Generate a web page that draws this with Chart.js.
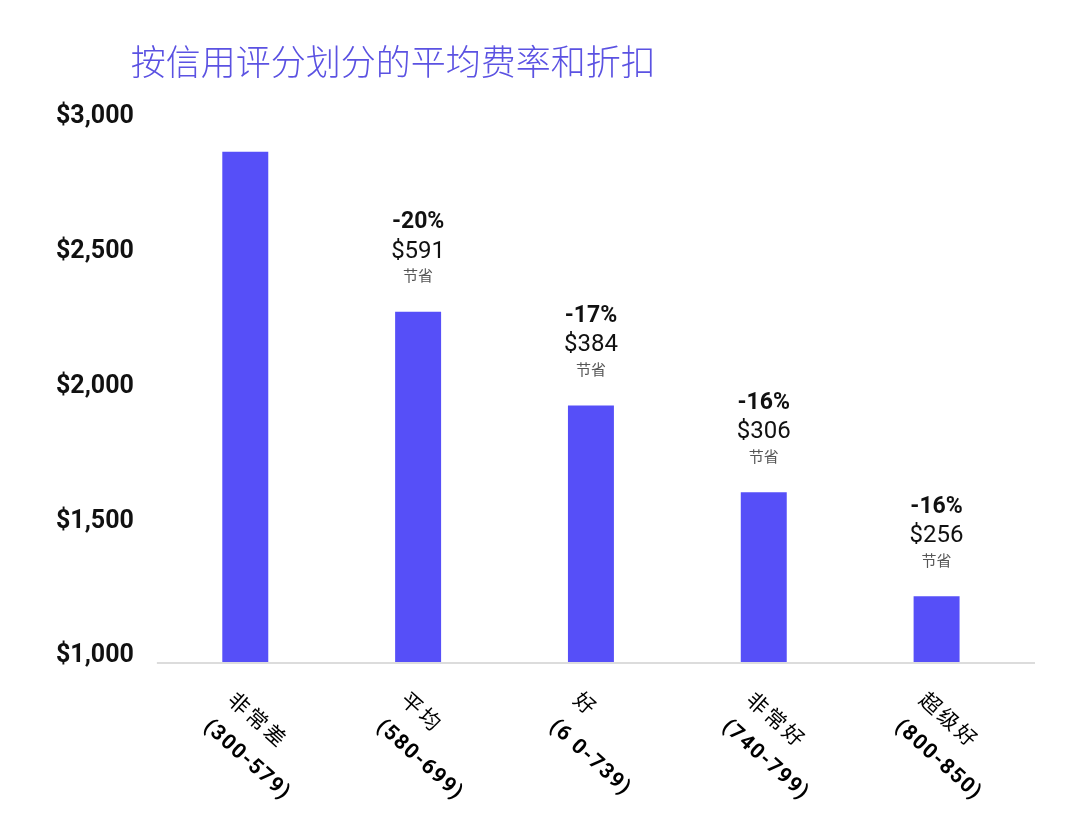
<!DOCTYPE html>
<html>
<head>
<meta charset="utf-8">
<script src="https://cdn.jsdelivr.net/npm/chart.js@4.4.1/dist/chart.umd.min.js"></script>
<style>
  html, body { margin: 0; padding: 0; background: #fff; }
  #wrap { width: 1080px; height: 833px; position: relative; }
</style>
</head>
<body>
<div id="wrap"><canvas id="rateChart"></canvas></div>
<script>
// 按信用评分划分的平均费率和折扣
const titleText = '按信用评分划分的平均费率和折扣';
const categories = ['非常差', '平均', '好', '非常好', '超级好'];
const scoreRanges = ['(300-579)', '(580-699)', '(6 0-739)', '(740-799)', '(800-850)'];
const avgRates = [2893, 2300, 1952, 1630, 1244];
const discountPct = ['', '-20%', '-17%', '-16%', '-16%'];
const savingsText = ['', '$591', '$384', '$306', '$256'];
const savingsNote = '节省';
const yMin = 1000;
const yMax = 3000;
const yStep = 500;

const BAR_COLOR = '#564ff8';
const CJK = '"Noto Sans CJK SC", "Noto Sans", sans-serif';
const LATIN = 'Roboto, "Noto Sans", sans-serif';

// draws title, baseline, savings notes and the slanted category labels
const extrasPlugin = {
  id: 'extras',
  afterDraw(chart) {
    const ctx = chart.ctx;
    const area = chart.chartArea;
    const yScale = chart.scales.y;
    const xScale = chart.scales.x;
    const meta = chart.getDatasetMeta(0);
    const baseY = yScale.getPixelForValue(yMin);

    ctx.save();

    // title
    ctx.fillStyle = '#5b52e2';
    ctx.font = '300 35px ' + CJK;
    ctx.textAlign = 'left';
    ctx.textBaseline = 'middle';
    ctx.fillText(titleText, area.left - 28, 62);

    // baseline
    ctx.strokeStyle = '#dcdcdc';
    ctx.lineWidth = 2;
    ctx.beginPath();
    ctx.moveTo(area.left - 2, baseY + 1);
    ctx.lineTo(area.right + 12, baseY + 1);
    ctx.stroke();

    // savings annotations above bars
    ctx.textAlign = 'center';
    meta.data.forEach((bar, i) => {
      if (!discountPct[i]) return;
      const x = bar.x;
      const top = bar.y;
      ctx.fillStyle = '#111';
      ctx.font = 'bold 23px ' + LATIN;
      ctx.fillText(discountPct[i], x, top - 89);
      ctx.font = '24px ' + LATIN;
      ctx.fillText(savingsText[i], x, top - 60);
      ctx.fillStyle = '#555';
      ctx.font = '15px ' + CJK;
      ctx.fillText(savingsNote, x, top - 36);
    });

    // category labels, rotated, lines start-aligned
    const angle = 42 * Math.PI / 180;
    categories.forEach((cat, i) => {
      const x = xScale.getPixelForValue(i);
      ctx.save();
      ctx.translate(x - 39, baseY + 62);
      ctx.rotate(angle);
      ctx.textAlign = 'left';
      ctx.textBaseline = 'middle';
      ctx.fillStyle = '#000';
      ctx.font = '21px ' + CJK;
      ctx.letterSpacing = '3px';
      ctx.fillText(cat, 0, -38);
      ctx.font = 'bold 21px ' + LATIN;
      ctx.letterSpacing = '1.5px';
      ctx.fillText(scoreRanges[i], 0, 0);
      ctx.restore();
    });

    ctx.restore();
  }
};

function initRateChart() {
  const ctx = document.getElementById('rateChart');
  if (!ctx) return;

  new Chart(ctx, {
    type: 'bar',
    data: {
      labels: categories,
      datasets: [
        {
          label: '平均费率',
          data: avgRates,
          backgroundColor: BAR_COLOR,
          borderWidth: 0,
          barPercentage: 0.266,
          categoryPercentage: 1
        }
      ]
    },
    options: {
      responsive: true,
      maintainAspectRatio: false,
      animation: false,
      layout: {
        padding: { top: 123, bottom: 163, left: 31, right: 57 }
      },
      plugins: {
        legend: { display: false },
        title: { display: false },
        tooltip: { enabled: false }
      },
      scales: {
        x: {
          grid: { display: false },
          border: { display: false },
          ticks: { display: false }
        },
        y: {
          min: yMin,
          max: yMax,
          grid: { display: false, drawTicks: false },
          border: { display: false },
          ticks: {
            stepSize: yStep,
            padding: 25,
            labelOffset: -6,
            color: '#111',
            font: { family: 'Roboto', size: 25, weight: 'bold' },
            callback: function(value) {
              return '$' + value.toLocaleString('en-US');
            }
          }
        }
      }
    },
    plugins: [extrasPlugin]
  });
}

initRateChart();
</script>
</body>
</html>
